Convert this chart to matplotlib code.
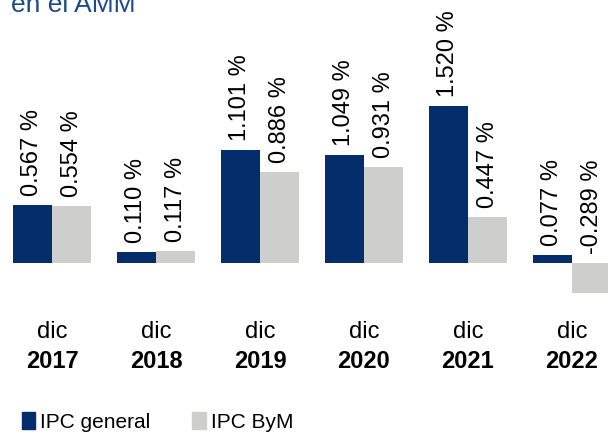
import matplotlib
matplotlib.use("Agg")
import matplotlib.pyplot as plt
from matplotlib.patches import Patch
from matplotlib.transforms import blended_transform_factory

plt.rcParams['font.family'] = ['Liberation Sans', 'DejaVu Sans']

years = ["2017", "2018", "2019", "2020", "2021", "2022"]
month = "dic"
ipc_general = [0.567, 0.110, 1.101, 1.049, 1.520, 0.077]
ipc_bym = [0.554, 0.117, 0.886, 0.931, 0.447, -0.289]
series_names = ["IPC general", "IPC ByM"]
title = "en el AMM"

NAVY = "#042D6B"
GRAY = "#CECECC"

W, H = 608, 434
fig = plt.figure(figsize=(W / 100, H / 100), dpi=100)

baseline_px = 263.0
scale = 103.0
ymin, ymax = -0.5, 2.0
top_px = baseline_px - ymax * scale
bot_px = baseline_px - ymin * scale
ax = fig.add_axes([0, (H - bot_px) / H, 624 / W, (bot_px - top_px) / H])
ax.set_xlim(-0.5, len(years) - 0.5)
ax.set_ylim(ymin, ymax)
ax.axis("off")

x = list(range(len(years)))
bw = 0.375
ax.bar([i - bw / 2 for i in x], ipc_general, width=bw, color=NAVY)
ax.bar([i + bw / 2 for i in x], ipc_bym, width=bw, color=GRAY)

for i in x:
    for off, v in ((-bw / 2, ipc_general[i]), (bw / 2, ipc_bym[i])):
        ax.annotate(f"{v:.3f} %", (i + off, max(v, 0)), xytext=(0, 9),
                    textcoords="offset pixels", rotation=90,
                    ha="center", va="bottom", fontsize=17, color="black")

tr = blended_transform_factory(ax.transData, fig.transFigure)
for i, y in enumerate(years):
    ax.text(i, (H - 332) / H, month, transform=tr, ha="center", va="center",
            fontsize=17)
    ax.text(i, (H - 362) / H, y, transform=tr, ha="center", va="center",
            fontsize=17, fontweight="bold")

fig.text(11 / W, (H - 12) / H, title, color="#1F4A8A", fontsize=19,
         ha="left", va="baseline")

handles = [Patch(color=NAVY), Patch(color=GRAY)]
fig.legend(handles, series_names, loc="lower left",
           bbox_to_anchor=(9 / W, -10 / H), ncol=2, frameon=False,
           fontsize=15, handlelength=0.65, handleheight=0.85,
           handletextpad=0.25, columnspacing=2.0, borderaxespad=0.2)

fig.savefig("out.png", dpi=100)
